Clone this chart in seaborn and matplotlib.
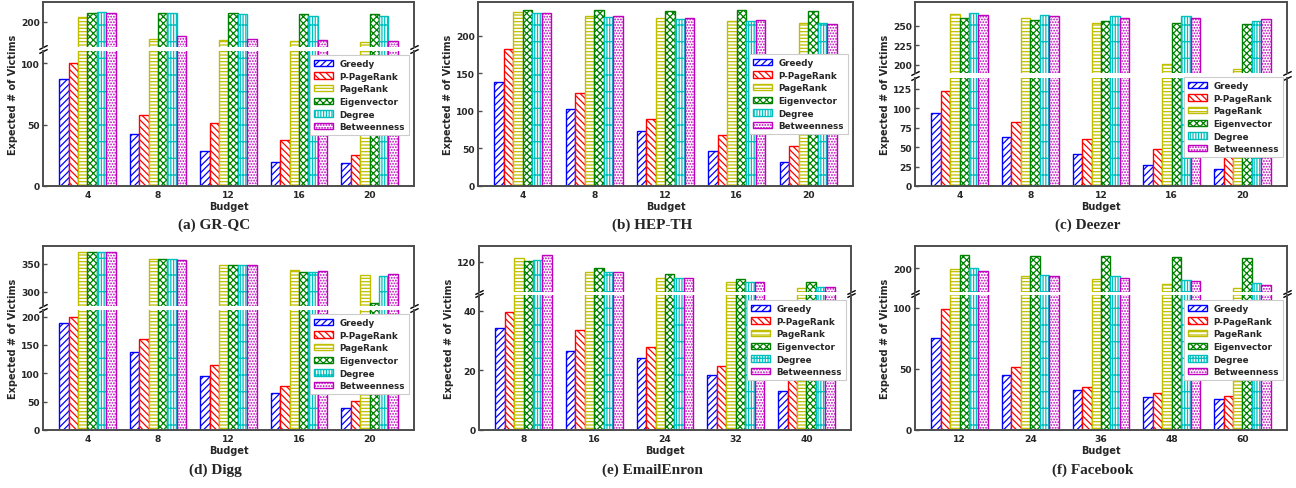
import matplotlib
matplotlib.use("Agg")
import matplotlib.pyplot as plt
import matplotlib.patches as mpatches
from matplotlib.ticker import MultipleLocator, FixedLocator
import numpy as np
import pandas as pd
import seaborn as sns

# ---------------- data ----------------
methods = ["Greedy", "P-PageRank", "PageRank", "Eigenvector", "Degree", "Betweenness"]

grqc_budget = [4, 8, 12, 16, 20]
grqc_values = [
    [87, 42.4, 28.3, 19.3, 18.5],
    [100, 57.9, 51, 37.7, 25],
    [204.3, 186.4, 185, 184.3, 183.5],
    [207.6, 207, 207, 206.5, 206.5],
    [207.9, 207, 206.5, 204.9, 204.9],
    [207, 188.3, 186.1, 185.3, 184.5],
]

hepth_budget = [4, 8, 12, 16, 20]
hepth_values = [
    [138.9, 103, 73.4, 46.9, 31.4],
    [182.7, 123.9, 89.8, 68.1, 53.5],
    [231.4, 226.5, 223.8, 219.4, 217.7],
    [234, 234, 233.6, 234, 233.6],
    [230, 224.7, 222, 219.4, 217.7],
    [230, 227, 223.4, 220.7, 215.9],
]

deezer_budget = [4, 8, 12, 16, 20]
deezer_values = [
    [94, 63, 41.8, 27.2, 21.6],
    [122, 82.3, 60.3, 47.4, 38.4],
    [265.4, 260.7, 254.3, 201.3, 193.6],
    [260.7, 258, 256.8, 254.3, 252.6],
    [267, 264.5, 262.4, 262.8, 256.8],
    [263.7, 262.8, 260.7, 260.7, 259],
]

digg_budget = [4, 8, 12, 16, 20]
digg_values = [
    [189.4, 138.4, 95.6, 64.5, 38.1],
    [200, 160.7, 115.5, 77.4, 50.4],
    [371.2, 358.8, 347, 338.2, 330],
    [371, 357.6, 348.2, 335.9, 281.2],
    [371, 358.8, 347, 335.9, 328.8],
    [370.6, 357, 348.2, 337, 331.2],
]

enron_budget = [8, 16, 24, 32, 40]
enron_values = [
    [34.1, 26.4, 24.2, 18.4, 13.2],
    [39.4, 33.4, 27.7, 21.6, 17],
    [121.3, 116.6, 114.4, 113.1, 111.3],
    [120.1, 118, 115.8, 114.3, 113.2],
    [120.6, 116.6, 114.6, 113.2, 111.6],
    [122.1, 116.4, 114.6, 113.1, 111.6],
]

facebook_budget = [12, 24, 36, 48, 60]
facebook_values = [
    [75.2, 45, 32.7, 27, 25.1],
    [98.6, 51.5, 35.1, 30.5, 27.8],
    [199.2, 194, 191.6, 187.5, 183.9],
    [211.2, 210.1, 209.8, 209, 208.2],
    [200.3, 194.3, 193.7, 190.2, 187.7],
    [197.5, 193.5, 191.8, 189.4, 186.4],
]

titles = ["(a) GR-QC", "(b) HEP-TH", "(c) Deezer", "(d) Digg", "(e) EmailEnron", "(f) Facebook"]

# ---------------- style ----------------
colors = ["#0000ff", "#ff0000", "#bfbf00", "#008000", "#00bfbf", "#bf00bf"]
hatches = ["/////", "\\\\\\\\\\", "-----", "xxxxx", "|||||+", "......"]

sns.set_style("ticks")
plt.rcParams["font.family"] = ["DejaVu Sans"]
plt.rcParams["hatch.linewidth"] = 0.9
plt.rcParams["font.weight"] = "bold"

W, H = 1296, 489
fig = plt.figure(figsize=(W / 100, H / 100), dpi=100)

SPINE = "#4d4d4d"


def add_ax(l, r, t, b):
    return fig.add_axes([l / W, 1 - b / H, (r - l) / W, (b - t) / H])


def make_df(budget, values):
    rows = []
    for m, vals in zip(methods, values):
        for bgt, v in zip(budget, vals):
            rows.append({"Budget": str(bgt), "Method": m, "Value": v})
    return pd.DataFrame(rows)


def draw_bars(ax, df, budget):
    sns.barplot(data=df, x="Budget", y="Value", hue="Method", hue_order=methods,
                order=[str(b) for b in budget], palette=colors, width=0.8,
                errorbar=None, legend=False, ax=ax)
    for i, cont in enumerate(ax.containers):
        for p in cont:
            p.set_facecolor("white")
            p.set_edgecolor(colors[i])
            p.set_hatch(hatches[i])
            p.set_linewidth(1.0)
    ax.set_xlim(-0.63, 4.63)
    ax.set_xlabel("")
    ax.set_ylabel("")


def style_ax(ax):
    for s in ax.spines.values():
        s.set_color(SPINE)
        s.set_linewidth(1.4)
    ax.tick_params(axis="y", direction="in", length=3, width=1, color=SPINE,
                   labelsize=6.6, pad=2)
    ax.tick_params(axis="x", length=0, labelsize=6.6, pad=3)
    for lab in ax.get_xticklabels() + ax.get_yticklabels():
        lab.set_fontweight("bold")


def add_legend(ax, right, top):
    handles = [mpatches.Patch(facecolor="white", edgecolor=c, hatch=h, linewidth=1.0, label=m)
               for m, c, h in zip(methods, colors, hatches)]
    leg = ax.legend(handles=handles, loc="upper right",
                    bbox_to_anchor=(right / W, 1 - top / H), bbox_transform=fig.transFigure,
                    prop={"weight": "bold", "size": 6.3}, handlelength=2.1, handleheight=0.75,
                    labelspacing=0.42, handletextpad=0.8, borderpad=0.45, borderaxespad=0,
                    frameon=True, fancybox=False, framealpha=1, edgecolor="#cccccc")
    leg.get_frame().set_linewidth(0.8)
    leg.set_zorder(10)


def panel(budget, values, l, r, t, b, split, ylim_lo, ylim_hi, loc_lo, loc_hi, leg_pos, title, cap_x, cap_y):
    df = make_df(budget, values)
    if split is None:
        ax = add_ax(l, r, t, b)
        draw_bars(ax, df, budget)
        ax.set_ylim(*ylim_lo)
        ax.yaxis.set_major_locator(MultipleLocator(loc_lo))
        style_ax(ax)
        ax.set_xlabel("Budget", fontsize=7, fontweight="bold", labelpad=1)
        add_legend(ax, *leg_pos)
    else:
        ut, ub, lt = split
        axu = add_ax(l, r, t, ub)
        axl = add_ax(l, r, lt, b)
        draw_bars(axu, df, budget)
        draw_bars(axl, df, budget)
        axu.set_ylim(*ylim_hi)
        axl.set_ylim(*ylim_lo)
        axu.yaxis.set_major_locator(loc_hi)
        axl.yaxis.set_major_locator(MultipleLocator(loc_lo))
        style_ax(axu)
        style_ax(axl)
        axu.spines["bottom"].set_visible(False)
        axl.spines["top"].set_visible(False)
        axu.tick_params(axis="x", labelbottom=False)
        axl.set_xlabel("Budget", fontsize=7, fontweight="bold", labelpad=1)
        kw = dict(marker=[(-1, -0.5), (1, 0.5)], markersize=6, linestyle="none",
                  color="k", mec="k", mew=1, clip_on=False)
        axu.plot([0, 1], [0, 0], transform=axu.transAxes, **kw)
        axl.plot([0, 1], [1, 1], transform=axl.transAxes, **kw)
        add_legend(axl, *leg_pos)
    fig.text((l - 30) / W, 1 - ((t + b) / 2) / H, "Expected # of Victims", rotation=90,
             ha="center", va="center", fontsize=7, fontweight="bold")
    fig.text(cap_x / W, 1 - cap_y / H, title, ha="center", va="center",
             fontsize=11, fontweight="bold", family=["Liberation Serif", "DejaVu Serif"])


panel(grqc_budget, grqc_values, 43, 414, 3, 187, (3, 48, 52), (0, 110), (179.6, 216.3),
      50, FixedLocator([200]), (409, 56), titles[0], 214, 225)
panel(hepth_budget, hepth_values, 478, 853, 3, 187, None, (0, 245), None,
      50, None, (848, 55), titles[1], 652, 225)
panel(deezer_budget, deezer_values, 915, 1287, 3, 187, (3, 74, 79), (0, 139), (189, 281),
      25, FixedLocator([200, 225, 250]), (1283, 78), titles[2], 1088, 225)
panel(digg_budget, digg_values, 43, 414, 247, 431, (247, 307, 311), (0, 211.7), (275.3, 381),
      50, FixedLocator([300, 350]), (409, 315), titles[3], 215, 470)
panel(enron_budget, enron_values, 479, 851, 247, 431, (247, 293, 296), (0, 45.25), (109.8, 125.3),
      20, FixedLocator([120]), (846, 301), titles[4], 652, 470)
panel(facebook_budget, facebook_values, 915, 1287, 247, 431, (247, 293, 296), (0, 110.4), (180.7, 218.3),
      50, FixedLocator([200]), (1283, 301), titles[5], 1093, 470)

fig.savefig("out.png", dpi=100)
